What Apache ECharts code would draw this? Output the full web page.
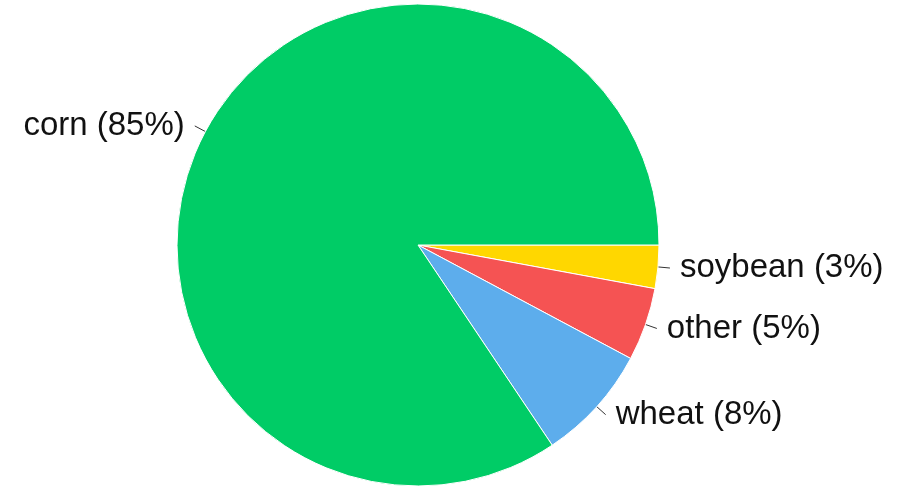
<!DOCTYPE html>
<html><head><meta charset="utf-8">
<script src="https://cdn.jsdelivr.net/npm/echarts@6/dist/echarts.min.js"></script>
<style>html,body{margin:0;padding:0;background:#fff}#c{width:917px;height:489px}</style>
</head><body><div id="c"></div>
<script>
const categories = ["soybean", "other", "wheat", "corn"];
const shares = [2.9, 4.9, 7.8, 84.4];
const labelPercents = [3, 5, 8, 85];
const colors = ["#ffd700", "#f55353", "#5dadec", "#00cc66"];

const chart = echarts.init(document.getElementById('c'));
chart.setOption({
  animation: false,
  series: [{
    type: 'pie',
    center: [418, 245],
    radius: 241,
    startAngle: 0,
    clockwise: true,
    data: categories.map((c, i) => ({ name: c, value: shares[i], pct: labelPercents[i], itemStyle: { color: colors[i] } })),
    itemStyle: { borderColor: '#fff', borderWidth: 1 },
    label: {
      formatter: p => p.name + ' (' + p.data.pct + '%)',
      fontFamily: 'Liberation Sans, Arial, sans-serif',
      fontSize: 33,
      color: '#111',
      distanceToLabelLine: 10
    },
    labelLine: { length: 12, length2: 0, lineStyle: { color: '#333', width: 1 } }
  }]
});
</script></body></html>
